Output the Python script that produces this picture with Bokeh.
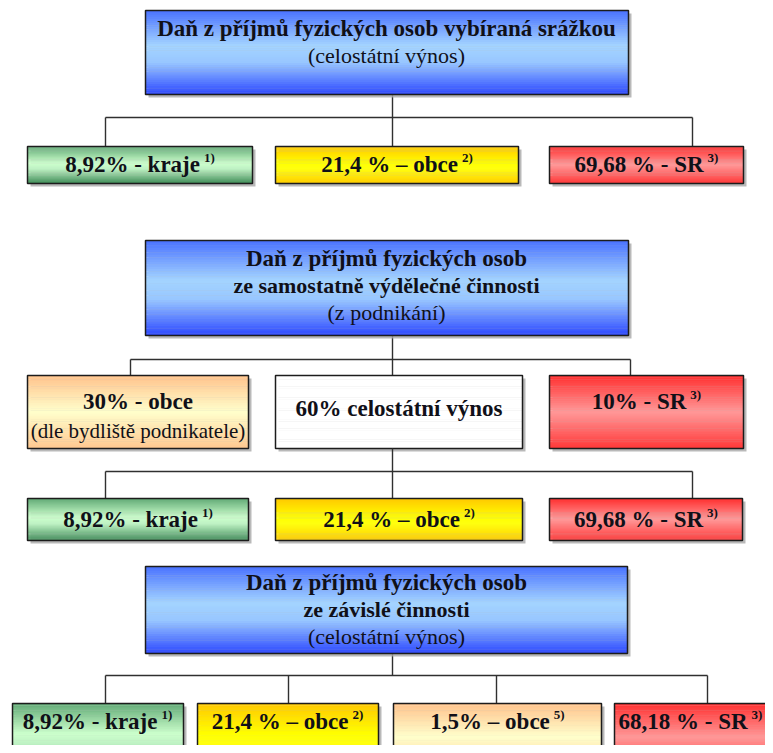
import unicodedata
from bokeh.plotting import figure
from bokeh.models import Range1d
from bokeh.embed import file_html
from bokeh.resources import INLINE
from bokeh.core.properties import value

# ---------------- data (texts of the diagram) ----------------
TOP_TITLE = ["Daň z příjmů fyzických osob vybíraná srážkou", "(celostátní výnos)"]
MID_TITLE = ["Daň z příjmů fyzických osob", "ze samostatně výdělečné činnosti", "(z podnikání)"]
BOT_TITLE = ["Daň z příjmů fyzických osob", "ze závislé činnosti", "(celostátní výnos)"]

SHARE_LABELS = ["8,92% - kraje", "21,4 % – obce", "69,68 % - SR"]
SHARE_NOTES = ["1)", "2)", "3)"]

SPLIT_LABELS = ["30% - obce", "60% celostátní výnos", "10% - SR"]
SPLIT_NOTES = ["", "", "3)"]
SPLIT_SUBS = ["(dle bydliště podnikatele)", "", ""]

DEP_LABELS = ["8,92% - kraje", "21,4 % – obce", "1,5% – obce", "68,18 % - SR"]
DEP_NOTES = ["1)", "2)", "5)", "3)"]

# ---------------- styles ----------------
FONT = "Liberation Serif, Times New Roman, serif"
TXT = "#101018"
BLUE = [(0.0, "#4a72ff"), (0.42, "#a4d4ff"), (0.62, "#98c6ff"), (1.0, "#2c48ff")]
GREEN = [(0.0, "#62aa76"), (0.45, "#ccffcc"), (0.6, "#bff2c4"), (1.0, "#3f8c58")]
YELLOW = [(0.0, "#ffc800"), (0.45, "#ffff00"), (0.6, "#ffff10"), (1.0, "#ffcc00")]
RED = [(0.0, "#ff3030"), (0.5, "#ff9898"), (1.0, "#ff3838")]
ORANGE = [(0.0, "#ffc38c"), (0.5, "#ffffcc"), (1.0, "#ffc890")]
WHITE = [(0.0, "#ffffff"), (1.0, "#ffffff")]

BOLD_W = {" ": 250, "%": 1000, "(": 333, ")": 333, ",": 250, "-": 333, ".": 250, "–": 500,
          "A": 722, "R": 722, "S": 556, "D": 722,
          "a": 500, "b": 556, "c": 444, "d": 556, "e": 444, "f": 333, "g": 500, "h": 556,
          "i": 278, "j": 333, "k": 556, "l": 278, "m": 833, "n": 556, "o": 500, "p": 556,
          "r": 444, "s": 389, "t": 333, "u": 556, "v": 500, "y": 500, "z": 444}
for d in "0123456789":
    BOLD_W[d] = 500


def text_w(s, size):
    tot = 0
    for ch in s:
        base = unicodedata.normalize("NFD", ch)[0]
        tot += BOLD_W.get(ch, BOLD_W.get(base, 500))
    return tot * size / 1000.0


p = figure(width=765, height=745, x_range=Range1d(0, 765), y_range=Range1d(745, 0),
           output_backend="svg", toolbar_location=None, min_border=0,
           x_axis_type=None, y_axis_type=None)
p.grid.visible = False
p.outline_line_color = None
p.background_fill_color = "white"
p.border_fill_color = "white"


def hex2rgb(h):
    h = h.lstrip("#")
    return tuple(int(h[i:i + 2], 16) for i in (0, 2, 4))


def interp(stops, t):
    for (t0, c0), (t1, c1) in zip(stops[:-1], stops[1:]):
        if t0 <= t <= t1:
            f = 0 if t1 == t0 else (t - t0) / (t1 - t0)
            a, b = hex2rgb(c0), hex2rgb(c1)
            return "#%02x%02x%02x" % tuple(int(round(a[i] + (b[i] - a[i]) * f)) for i in range(3))
    return stops[-1][1]


def draw_box(x0, x1, y0, y1, stops):
    p.quad(left=[x0 + 3], right=[x1 + 3], top=[y0 + 3], bottom=[y1 + 3],
           fill_color="#a8a8a8", line_color=None, fill_alpha=0.8)
    n = 40
    h = (y1 - y0) / n
    lefts, rights, tops, bots, cols = [], [], [], [], []
    for i in range(n):
        lefts.append(x0)
        rights.append(x1)
        tops.append(y0 + i * h)
        bots.append(min(y1, y0 + (i + 1) * h + 0.4))
        cols.append(interp(stops, (i + 0.5) / n))
    p.quad(left=lefts, right=rights, top=tops, bottom=bots, fill_color=cols, line_color=None)
    p.quad(left=[x0], right=[x1], top=[y0], bottom=[y1], fill_color=None,
           line_color="#1c1c1c", line_width=1.5)


def txt(x, y, s, size, style="bold", align="center"):
    p.text(x=[x], y=[y], text=[s], text_font=value(FONT), text_font_size="%dpx" % round(size),
           text_font_style=style, text_align=align, text_baseline="middle", text_color=TXT)


def label(cx, cy, main, note, size=23, sup=13):
    if not note:
        txt(cx, cy, main, size)
        return
    w = text_w(main, size)
    ws = text_w(note, sup)
    gap = 4
    left = cx - (w + gap + ws) / 2
    txt(left, cy, main, size, align="left")
    txt(left + w + gap, cy - 7, note, sup, align="left")


def connector(px, py, bar_y, child_xs, child_top):
    xs = [[px, px], [min(child_xs), max(child_xs)]]
    ys = [[py, bar_y], [bar_y, bar_y]]
    for cx in child_xs:
        xs.append([cx, cx])
        ys.append([bar_y, child_top])
    p.multi_line(xs=xs, ys=ys, line_color="#303030", line_width=1.4)


# ---------------- section 1 ----------------
connector(392, 94, 117, [105, 392, 692], 146)
draw_box(145, 628, 10, 94, BLUE)
txt(386, 28, TOP_TITLE[0], 23)
txt(386, 55, TOP_TITLE[1], 22, style="normal")

row1 = [(27, 252, GREEN), (275, 518, YELLOW), (549, 743, RED)]
for (x0, x1, col), lab, note in zip(row1, SHARE_LABELS, SHARE_NOTES):
    draw_box(x0, x1, 146, 183, col)
    label((x0 + x1) / 2, 164, lab, note)

# ---------------- section 2 ----------------
connector(392, 335, 359, [130, 392, 630], 375)
draw_box(145, 628, 240, 335, BLUE)
txt(386, 258, MID_TITLE[0], 23)
txt(386, 285, MID_TITLE[1], 22)
txt(386, 312, MID_TITLE[2], 22, style="normal")

row2 = [(27, 248, ORANGE, 401), (275, 522, WHITE, 408), (549, 743, RED, 401)]
for (x0, x1, col, ty), lab, note, sub in zip(row2, SPLIT_LABELS, SPLIT_NOTES, SPLIT_SUBS):
    draw_box(x0, x1, 375, 448, col)
    label((x0 + x1) / 2, ty, lab, note)
    if sub:
        txt((x0 + x1) / 2, 430, sub, 21, style="normal")

connector(392, 448, 471, [105, 392, 692], 498)
row3 = [(27, 248, GREEN), (275, 522, YELLOW), (549, 742, RED)]
for (x0, x1, col), lab, note in zip(row3, SHARE_LABELS, SHARE_NOTES):
    draw_box(x0, x1, 498, 540, col)
    label((x0 + x1) / 2, 519, lab, note)

# ---------------- section 3 ----------------
connector(392, 653, 675, [105, 288, 496, 707], 703)
draw_box(145, 627, 566, 653, BLUE)
txt(386, 582, BOT_TITLE[0], 23)
txt(386, 609, BOT_TITLE[1], 22)
txt(386, 636, BOT_TITLE[2], 22, style="normal")

row4 = [(12, 183, GREEN, 97), (197, 378, YELLOW, 287), (393, 601, ORANGE, 497), (614, 800, RED, 690)]
for (x0, x1, col, cx), lab, note in zip(row4, DEP_LABELS, DEP_NOTES):
    draw_box(x0, x1, 703, 770, col)
    label(cx, 721, lab, note)

open("out.html", "w").write(file_html(p, INLINE))
